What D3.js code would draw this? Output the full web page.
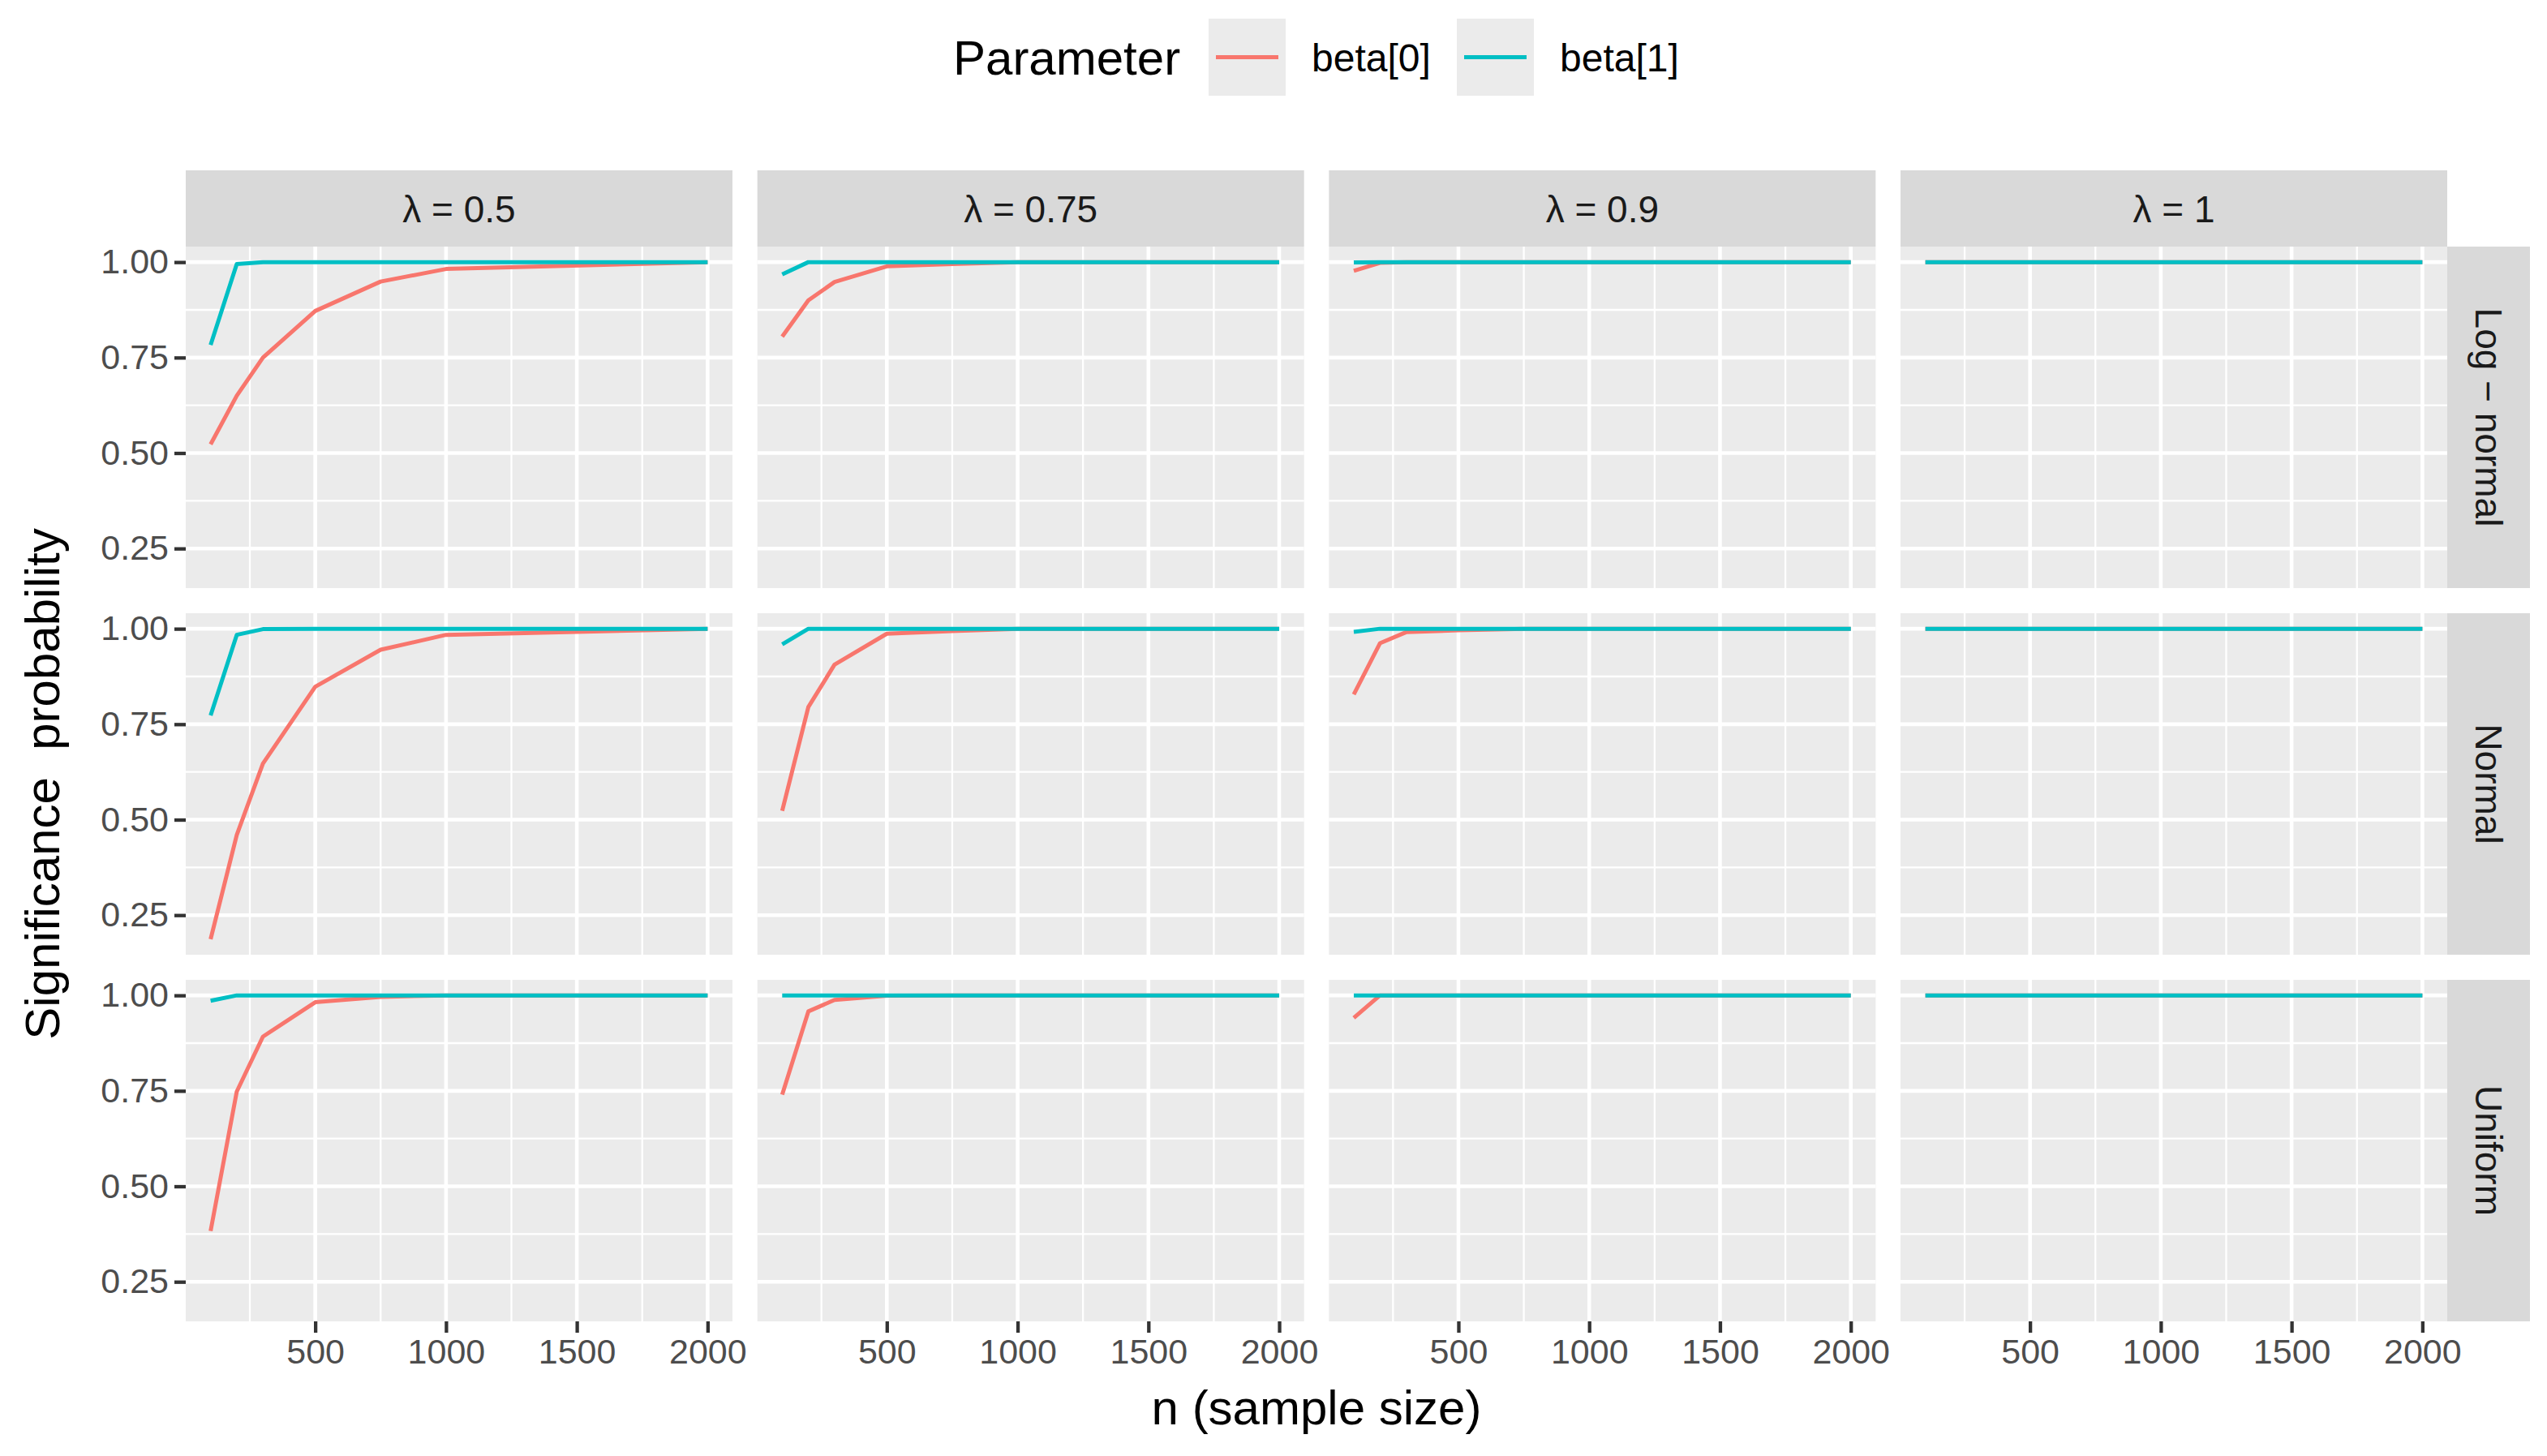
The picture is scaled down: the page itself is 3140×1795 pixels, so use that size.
<!DOCTYPE html>
<html>
<head>
<meta charset="utf-8">
<script src="https://cdn.jsdelivr.net/npm/d3@7"></script>
<style>
  html, body { margin: 0; padding: 0; background: #fff; }
  svg { display: block; font-family: "Liberation Sans", Arial, Helvetica, sans-serif; }
</style>
</head>
<body>
<svg id="chart" width="3140" height="1795"></svg>
<script>
// ---------------- DATA ----------------
const sampleSizes = [100, 200, 300, 500, 750, 1000, 2000];
const lambdaLabels = ["λ = 0.5", "λ = 0.75", "λ = 0.9", "λ = 1"];
const distributionLabels = ["Log − normal", "Normal", "Uniform"];
const parameterLabels = ["beta[0]", "beta[1]"];
const parameterColors = ["#F8766D", "#00BFC4"];
const xTickValues = [500, 1000, 1500, 2000];
const xMinorValues = [250, 750, 1250, 1750];
const yTickValues = [0.25, 0.50, 0.75, 1.00];
const yMinorValues = [0.375, 0.625, 0.875];

// rows of each array: lambda = 0.5, 0.75, 0.9, 1
const logNormalBeta0 = [
  [0.523, 0.650, 0.750, 0.872, 0.949, 0.982, 1.000],
  [0.805, 0.900, 0.948, 0.989, 0.995, 1.000, 1.000],
  [0.977, 0.998, 1.000, 1.000, 1.000, 1.000, 1.000],
  [1.000, 1.000, 1.000, 1.000, 1.000, 1.000, 1.000]
];
const logNormalBeta1 = [
  [0.783, 0.995, 1.000, 1.000, 1.000, 1.000, 1.000],
  [0.968, 1.000, 1.000, 1.000, 1.000, 1.000, 1.000],
  [0.999, 1.000, 1.000, 1.000, 1.000, 1.000, 1.000],
  [1.000, 1.000, 1.000, 1.000, 1.000, 1.000, 1.000]
];
const normalBeta0 = [
  [0.187, 0.460, 0.647, 0.848, 0.945, 0.984, 1.000],
  [0.523, 0.795, 0.906, 0.987, 0.994, 1.000, 1.000],
  [0.828, 0.962, 0.991, 0.996, 1.000, 1.000, 1.000],
  [1.000, 1.000, 1.000, 1.000, 1.000, 1.000, 1.000]
];
const normalBeta1 = [
  [0.773, 0.984, 0.999, 1.000, 1.000, 1.000, 1.000],
  [0.959, 1.000, 1.000, 1.000, 1.000, 1.000, 1.000],
  [0.992, 1.000, 1.000, 1.000, 1.000, 1.000, 1.000],
  [1.000, 1.000, 1.000, 1.000, 1.000, 1.000, 1.000]
];
const uniformBeta0 = [
  [0.383, 0.748, 0.892, 0.982, 0.996, 1.000, 1.000],
  [0.740, 0.958, 0.988, 0.999, 1.000, 1.000, 1.000],
  [0.941, 1.000, 1.000, 1.000, 1.000, 1.000, 1.000],
  [1.000, 1.000, 1.000, 1.000, 1.000, 1.000, 1.000]
];
const uniformBeta1 = [
  [0.986, 1.000, 1.000, 1.000, 1.000, 1.000, 1.000],
  [1.000, 1.000, 1.000, 1.000, 1.000, 1.000, 1.000],
  [1.000, 1.000, 1.000, 1.000, 1.000, 1.000, 1.000],
  [1.000, 1.000, 1.000, 1.000, 1.000, 1.000, 1.000]
];

const seriesByRow = [
  [logNormalBeta0, logNormalBeta1],
  [normalBeta0, normalBeta1],
  [uniformBeta0, uniformBeta1]
];

// ---------------- LAYOUT ----------------
const panelLeft0 = 229, panelW = 674, colStep = 704.67;
const panelTop0 = 304, panelH = 421, rowStep = 452;
const stripTop = 210, stripH = 94;
const rightStripW = 102;

const svg = d3.select("#chart");

// ggplot-like expanded domains
const xExt = d3.extent(sampleSizes);
const xPad = (xExt[1] - xExt[0]) * 0.05;
const allVals = seriesByRow.flat(3);
const yExt = d3.extent(allVals);
const yPad = (yExt[1] - yExt[0]) * 0.05;

const x = d3.scaleLinear().domain([xExt[0] - xPad, xExt[1] + xPad]).range([0, panelW]);
const y = d3.scaleLinear().domain([yExt[0] - yPad, yExt[1] + yPad]).range([panelH, 0]);

const line = d3.line().x((d, i) => x(sampleSizes[i])).y(d => y(d));

// top strips
lambdaLabels.forEach((lab, c) => {
  const gx = panelLeft0 + c * colStep;
  const g = svg.append("g").attr("transform", `translate(${gx},${stripTop})`);
  g.append("rect").attr("width", panelW).attr("height", stripH).attr("fill", "#D9D9D9");
  g.append("text").attr("x", panelW / 2).attr("y", 64)
    .attr("text-anchor", "middle").attr("font-size", 46).attr("fill", "#1A1A1A").text(lab);
});

// right strips
distributionLabels.forEach((lab, r) => {
  const gy = panelTop0 + r * rowStep;
  const gx = panelLeft0 + 3 * colStep + panelW;
  const g = svg.append("g").attr("transform", `translate(${gx},${gy})`);
  g.append("rect").attr("width", rightStripW).attr("height", panelH).attr("fill", "#D9D9D9");
  g.append("text").attr("transform", `translate(${rightStripW / 2},${panelH / 2}) rotate(90)`)
    .attr("text-anchor", "middle").attr("dy", "0.35em")
    .attr("font-size", 46).attr("fill", "#1A1A1A").text(lab);
});

// panels
for (let r = 0; r < 3; r++) {
  for (let c = 0; c < 4; c++) {
    const gx = panelLeft0 + c * colStep, gy = panelTop0 + r * rowStep;
    const g = svg.append("g").attr("transform", `translate(${gx},${gy})`);
    g.append("rect").attr("width", panelW).attr("height", panelH).attr("fill", "#EBEBEB");
    // minor grid
    g.selectAll(".ymin").data(yMinorValues).enter().append("line")
      .attr("x1", 0).attr("x2", panelW).attr("y1", d => y(d)).attr("y2", d => y(d))
      .attr("stroke", "#fff").attr("stroke-width", 2.3);
    g.selectAll(".xmin").data(xMinorValues).enter().append("line")
      .attr("y1", 0).attr("y2", panelH).attr("x1", d => x(d)).attr("x2", d => x(d))
      .attr("stroke", "#fff").attr("stroke-width", 2.3);
    // major grid
    g.selectAll(".ymaj").data(yTickValues).enter().append("line")
      .attr("x1", 0).attr("x2", panelW).attr("y1", d => y(d)).attr("y2", d => y(d))
      .attr("stroke", "#fff").attr("stroke-width", 4.6);
    g.selectAll(".xmaj").data(xTickValues).enter().append("line")
      .attr("y1", 0).attr("y2", panelH).attr("x1", d => x(d)).attr("x2", d => x(d))
      .attr("stroke", "#fff").attr("stroke-width", 4.6);
    // series
    seriesByRow[r].forEach((series, p) => {
      g.append("path").datum(series[c]).attr("d", line)
        .attr("fill", "none").attr("stroke", parameterColors[p])
        .attr("stroke-width", 5).attr("stroke-linejoin", "round");
    });
    // axes
    if (r === 2) {
      const ax = g.append("g").attr("transform", `translate(0,${panelH})`)
        .call(d3.axisBottom(x).tickValues(xTickValues).tickSize(14).tickPadding(7).tickFormat(d3.format("d")));
      ax.select(".domain").remove();
      ax.selectAll(".tick line").attr("stroke", "#333333").attr("stroke-width", 4.3);
      ax.selectAll(".tick text").attr("fill", "#4D4D4D").attr("font-size", 43)
        .attr("font-family", "Liberation Sans, Arial, sans-serif");
    }
    if (c === 0) {
      const ay = g.append("g")
        .call(d3.axisLeft(y).tickValues(yTickValues).tickSize(14).tickPadding(7).tickFormat(d3.format(".2f")));
      ay.select(".domain").remove();
      ay.selectAll(".tick line").attr("stroke", "#333333").attr("stroke-width", 4.3);
      ay.selectAll(".tick text").attr("fill", "#4D4D4D").attr("font-size", 43)
        .attr("font-family", "Liberation Sans, Arial, sans-serif");
    }
  }
}

// axis titles
const panelsCenterX = (panelLeft0 + panelLeft0 + 3 * colStep + panelW) / 2;
svg.append("text").attr("x", panelsCenterX).attr("y", 1756)
  .attr("text-anchor", "middle").attr("font-size", 60).attr("fill", "#000").text("n (sample size)");
const panelsCenterY = (panelTop0 + panelTop0 + 2 * rowStep + panelH) / 2;
svg.append("text").attr("transform", `translate(73,${panelsCenterY}) rotate(-90)`)
  .attr("text-anchor", "middle").attr("font-size", 60).attr("fill", "#000")
  .style("white-space", "pre").text("Significance  probability");

// legend
const legend = svg.append("g");
legend.append("text").attr("x", 1175).attr("y", 92).attr("font-size", 60).attr("fill", "#000").text("Parameter");
const keyX = [1490, 1796], labX = [1617, 1923];
parameterLabels.forEach((lab, i) => {
  legend.append("rect").attr("x", keyX[i]).attr("y", 23).attr("width", 95).attr("height", 95).attr("fill", "#EBEBEB");
  legend.append("line").attr("x1", keyX[i] + 9).attr("x2", keyX[i] + 86).attr("y1", 70.5).attr("y2", 70.5)
    .attr("stroke", parameterColors[i]).attr("stroke-width", 5);
  legend.append("text").attr("x", labX[i]).attr("y", 88).attr("font-size", 48).attr("fill", "#000").text(lab);
});
</script>
</body>
</html>
